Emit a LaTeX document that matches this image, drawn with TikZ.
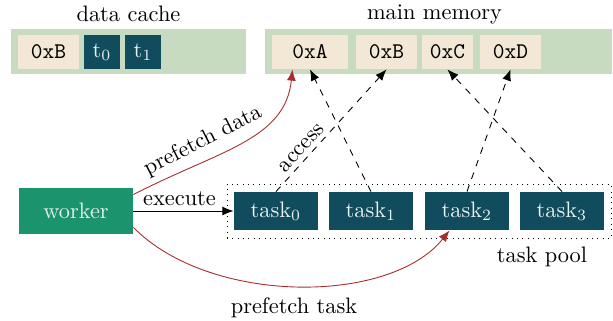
\documentclass[tikz,border=0pt]{standalone}
\usetikzlibrary{arrows.meta,calc}

\definecolor{cachebg}{RGB}{198,219,192}
\definecolor{cellbg}{RGB}{242,232,213}
\definecolor{taskbg}{RGB}{17,76,94}
\definecolor{workerbg}{RGB}{27,148,110}
\definecolor{lighttext}{RGB}{232,242,238}
\definecolor{fetchred}{RGB}{168,46,46}

\begin{document}
\begin{tikzpicture}[x=0.447pt, y=-0.447pt,
  region/.style={fill=cachebg, inner sep=0pt, minimum height={45*0.447pt}},
  cell/.style={fill=cellbg, inner sep=0pt, minimum height={34*0.447pt}, font=\ttfamily},
  tag/.style={fill=taskbg, text=lighttext, inner sep=0pt, minimum width={36*0.447pt}, minimum height={34*0.447pt}},
  taskbox/.style={fill=taskbg, text=lighttext, inner sep=0pt, minimum width={84*0.447pt}, minimum height={38*0.447pt}},
  accessline/.style={dashed, -{Latex[length=5pt,width=4pt]}},
  fetchline/.style={fetchred, -{Latex[length=5pt,width=4pt]}},
  caption/.style={inner sep=0pt}
]
\useasboundingbox (0,0) rectangle (613,320);

% data cache
\node[caption] (dclabel) at (128.5,14) {data cache};
\node[region, minimum width={235*0.447pt}] (dcache) at (128.5,51.5) {};
\node[cell, minimum width={61*0.447pt}] (cB) at (48.5,52) {0xB};
\node[tag] (t0) at (102,52) {t$_0$};
\node[tag] (t1) at (143,52) {t$_1$};

% main memory
\node[caption] (mmlabel) at (434.5,14) {main memory};
\node[region, minimum width={347*0.447pt}] (mmem) at (438.5,51.5) {};
\node[cell, minimum width={76*0.447pt}] (mA) at (310,52) {0xA};
\node[cell, minimum width={61*0.447pt}] (mB) at (386.5,52) {0xB};
\node[cell, minimum width={51*0.447pt}] (mC) at (447.5,52) {0xC};
\node[cell, minimum width={61*0.447pt}] (mD) at (510.5,52) {0xD};

% worker and task pool
\node[fill=workerbg, text=lighttext, inner sep=0pt, minimum width={114*0.447pt}, minimum height={46*0.447pt}] (worker) at (76,211) {worker};
\node[draw, dotted, inner sep=0pt, minimum width={384*0.447pt}, minimum height={54*0.447pt}] (pool) at (419,211) {};
\node[taskbox] (task0) at (276,211) {task$_0$};
\node[taskbox] (task1) at (371,211) {task$_1$};
\node[taskbox] (task2) at (467,211) {task$_2$};
\node[taskbox] (task3) at (562,211) {task$_3$};
\node[caption] (poollabel) at (542,257) {task pool};

% execute
\draw[-{Latex[length=5pt,width=4pt]}] (worker.east) -- node[above, pos=0.46, inner sep=2pt] (execlabel) {execute} (task0.west);

% memory accesses
\draw[accessline] (task0.north) -- node[sloped, above, pos=0.3, inner sep=2pt] (acclabel) {access} (mB.south);
\draw[accessline] (task1.north) -- (mA.south);
\draw[accessline] (task2.north) -- (mD.south);
\draw[accessline] (task3.north) -- (mC.south);

% prefetching
\draw[fetchline] (worker.16) .. controls (220,150) and (285,140) .. (mA.-135);
\node[caption, rotate=27] (pdlabel) at (203,141) {prefetch data};
\draw[fetchline] (worker.-16) .. controls (210,305) and (390,305) .. (task2.-132);
\node[caption] (ptlabel) at (294,308) {prefetch task};
\end{tikzpicture}
\end{document}
